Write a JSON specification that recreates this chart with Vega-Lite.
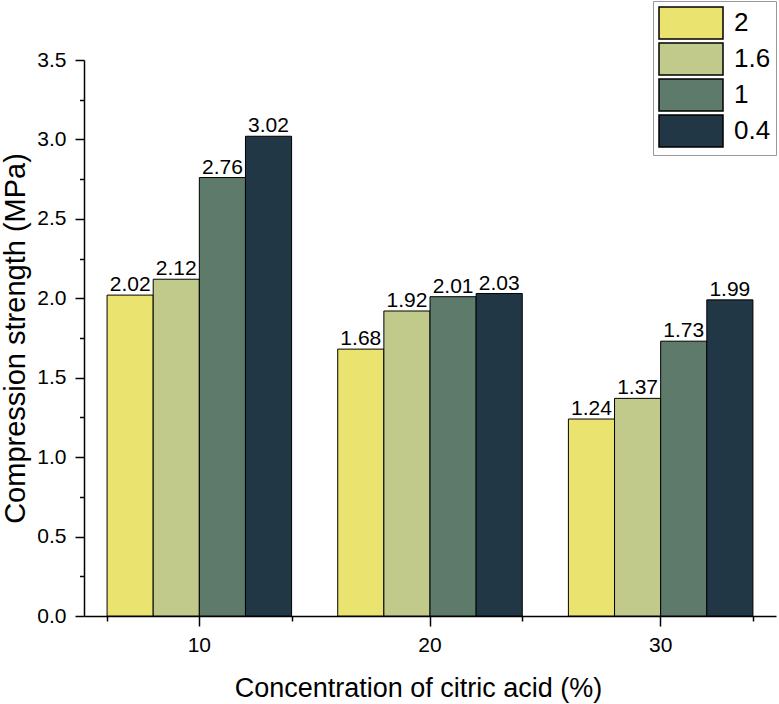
{
  "$schema": "https://vega.github.io/schema/vega-lite/v6.json",
  "width": 692,
  "height": 556,
  "autosize": "none",
  "padding": {"left": 84, "top": 60, "right": 3, "bottom": 88},
  "background": "white",
  "config": {
    "font": "Liberation Sans",
    "view": {"stroke": null},
    "axis": {
      "domainColor": "black",
      "domainWidth": 1.5,
      "tickColor": "black",
      "tickWidth": 1.5,
      "labelColor": "black",
      "titleColor": "black",
      "labelFont": "Liberation Sans",
      "titleFont": "Liberation Sans",
      "titleFontWeight": "normal",
      "grid": false
    }
  },
  "data": {
    "values": [
      {"conc": "10", "ratio": "2", "strength": 2.02},
      {"conc": "10", "ratio": "1.6", "strength": 2.12},
      {"conc": "10", "ratio": "1", "strength": 2.76},
      {"conc": "10", "ratio": "0.4", "strength": 3.02},
      {"conc": "20", "ratio": "2", "strength": 1.68},
      {"conc": "20", "ratio": "1.6", "strength": 1.92},
      {"conc": "20", "ratio": "1", "strength": 2.01},
      {"conc": "20", "ratio": "0.4", "strength": 2.03},
      {"conc": "30", "ratio": "2", "strength": 1.24},
      {"conc": "30", "ratio": "1.6", "strength": 1.37},
      {"conc": "30", "ratio": "1", "strength": 1.73},
      {"conc": "30", "ratio": "0.4", "strength": 1.99}
    ]
  },
  "encoding": {
    "xOffset": {"field": "ratio", "type": "nominal", "sort": ["2", "1.6", "1", "0.4"], "scale": {"paddingInner": 0, "paddingOuter": 0}},
    "y": {
      "field": "strength",
      "type": "quantitative",
      "scale": {"domain": [0, 3.5], "nice": false, "zero": true},
      "axis": {
        "title": "Compression strength (MPa)",
        "titleFontSize": 29,
        "titlePadding": 6,
        "values": [0, 0.25, 0.5, 0.75, 1, 1.25, 1.5, 1.75, 2, 2.25, 2.5, 2.75, 3, 3.25, 3.5],
        "labelExpr": "(round(datum.value * 100) % 50 === 0) ? format(datum.value, '.1f') : ''",
        "labelFontSize": 21,
        "labelPadding": 9,
        "tickSize": {"condition": {"test": "round(datum.value * 100) % 50 !== 0", "value": 4.5}, "value": 9}
      }
    }
  },
  "layer": [
    {
      "mark": {"type": "bar", "stroke": "black", "strokeWidth": 1},
      "encoding": {
        "x": {
          "field": "conc",
          "type": "nominal",
          "scale": {"paddingInner": 0.2, "paddingOuter": 0.1},
          "axis": {
            "orient": "bottom",
            "title": "Concentration of citric acid (%)",
            "titleFontSize": 27,
            "titlePadding": 20,
            "titleX": 334,
            "labelAngle": 0,
            "labelFontSize": 21,
            "labelPadding": 8,
            "tickSize": 10
          }
        },
        "color": {
          "field": "ratio",
          "type": "nominal",
          "sort": ["2", "1.6", "1", "0.4"],
          "scale": {"domain": ["2", "1.6", "1", "0.4"], "range": ["#EBE36F", "#C2CA8B", "#5D7A6A", "#213746"]},
          "legend": {
            "title": null,
            "orient": "none",
            "legendX": 569,
            "legendY": -59,
            "symbolType": "M-1,-1H3V1H-1Z",
            "symbolSize": 1024,
            "symbolStrokeColor": "black",
            "symbolStrokeWidth": 1.5,
            "symbolOpacity": 1,
            "labelFontSize": 26,
            "labelColor": "black",
            "labelOffset": 42,
            "rowPadding": -2,
            "padding": 5,
            "strokeColor": "#999999",
            "fillColor": "white"
          }
        }
      }
    },
    {
      "mark": {"type": "text", "baseline": "alphabetic", "dy": -4, "fontSize": 21, "color": "black"},
      "encoding": {
        "x": {
          "field": "conc",
          "type": "nominal",
          "axis": {
            "orient": "bottom",
            "title": null,
            "labels": false,
            "domain": false,
            "tickBand": "extent",
            "tickSize": 5
          }
        },
        "text": {"field": "strength", "type": "quantitative", "format": ".2f"}
      }
    }
  ],
  "resolve": {"axis": {"x": "independent"}}
}
